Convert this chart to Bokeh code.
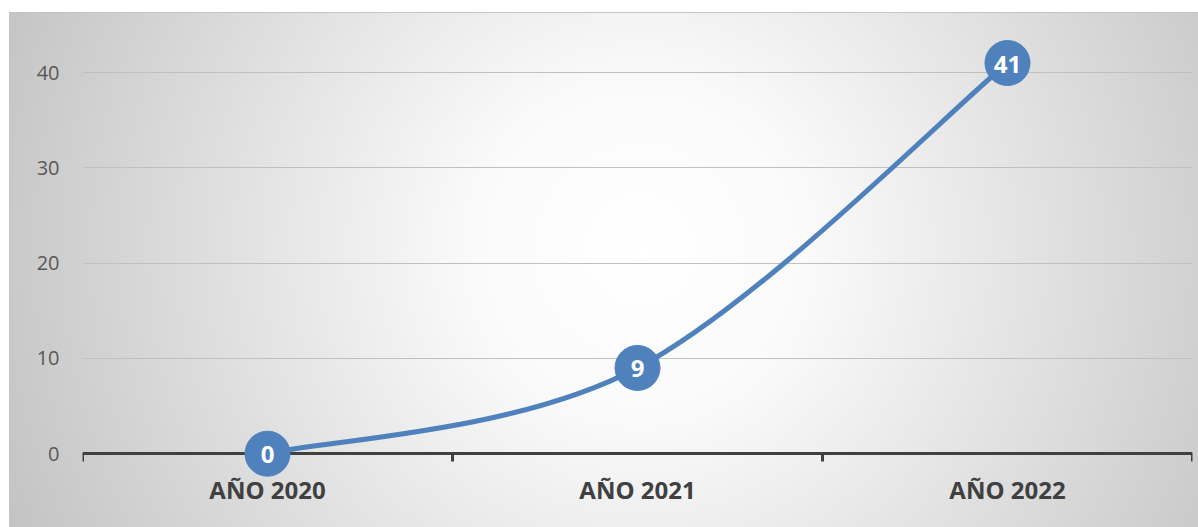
import numpy as np
from bokeh.plotting import figure
from bokeh.models import ColumnDataSource, FixedTicker, LinearAxis, Range1d
from bokeh.core.properties import value
from bokeh.embed import file_html
from bokeh.resources import INLINE

categories = ["AÑO 2020", "AÑO 2021", "AÑO 2022"]
values = [0, 9, 41]
y_ticks = [0, 10, 20, 30, 40]

n = len(categories)
xs = [i + 0.5 for i in range(n)]

# smoothed line (Catmull-Rom -> cubic Bezier control points from the data)
px = [xs[0]] + xs + [xs[-1]]
py = [values[0]] + values + [values[-1]]
seg = dict(x0=[], y0=[], x1=[], y1=[], cx0=[], cy0=[], cx1=[], cy1=[])
for i in range(n - 1):
    seg["x0"].append(xs[i]); seg["y0"].append(values[i])
    seg["x1"].append(xs[i + 1]); seg["y1"].append(values[i + 1])
    seg["cx0"].append(xs[i] + (px[i + 2] - px[i]) / 6)
    seg["cy0"].append(values[i] + (py[i + 2] - py[i]) / 6)
    seg["cx1"].append(xs[i + 1] - (px[i + 3] - px[i + 1]) / 6)
    seg["cy1"].append(values[i + 1] - (py[i + 3] - py[i + 1]) / 6)

bg = ("linear-gradient(#ffffff,#ffffff) 0 0/100% 12px no-repeat, "
      "linear-gradient(#ffffff,#ffffff) 0 0/9px 100% no-repeat, "
      "linear-gradient(#c4c4c4,#c4c4c4) 9px 12px/100% 1px no-repeat, "
      "linear-gradient(#c4c4c4,#c4c4c4) 9px 12px/1px 100% no-repeat, "
      "radial-gradient(circle 700px at 640px 250px, #ffffff 0%, #fafafa 24%, #c2c2c2 100%)")

p = figure(width=1198, height=527, output_backend="svg", toolbar_location=None,
           x_range=Range1d(0, n), y_range=Range1d(-2.5, 46.3),
           min_border_left=82, min_border_right=6, min_border_top=12, min_border_bottom=50,
           border_fill_color=None, background_fill_color=None, outline_line_color=None,
           styles={"background": bg})

# grid
p.xgrid.visible = False
p.ygrid.ticker = FixedTicker(ticks=y_ticks)
p.ygrid.grid_line_color = "#c0c0c0"
p.ygrid.grid_line_width = 1

# y axis
p.yaxis.ticker = FixedTicker(ticks=y_ticks)
p.yaxis.axis_line_color = None
p.yaxis.major_tick_line_color = None
p.yaxis.minor_tick_line_color = None
p.yaxis.major_label_standoff = 17
p.yaxis.major_label_text_font = "Open Sans"
p.yaxis.major_label_text_font_size = "20px"
p.yaxis.major_label_text_color = "#595959"

# category labels axis
p.xaxis.ticker = FixedTicker(ticks=xs)
p.xaxis.major_label_overrides = {x: c for x, c in zip(xs, categories)}
p.xaxis.axis_line_color = None
p.xaxis.major_tick_line_color = None
p.xaxis.minor_tick_line_color = None
p.xaxis.major_tick_out = 0
p.xaxis.major_tick_in = 0
p.xaxis.major_label_standoff = -5
p.xaxis.major_label_text_font = "Open Sans"
p.xaxis.major_label_text_font_style = "bold"
p.xaxis.major_label_text_font_size = "24px"
p.xaxis.major_label_text_color = "#404040"

# axis line at zero with boundary ticks
bounds = list(range(n + 1))
tick_axis = LinearAxis(fixed_location=0, ticker=FixedTicker(ticks=bounds),
                       major_label_overrides={b: "" for b in bounds},
                       major_tick_in=0, major_tick_out=8,
                       major_tick_line_width=3, major_tick_line_color="#404040",
                       minor_tick_line_color=None, axis_line_width=3, axis_line_color="#404040")
p.add_layout(tick_axis, "below")

src = ColumnDataSource(data=dict(x=xs, y=values, label=[str(v) for v in values]))
bez = p.bezier(x0="x0", y0="y0", x1="x1", y1="y1", cx0="cx0", cy0="cy0", cx1="cx1", cy1="cy1",
               source=ColumnDataSource(seg), line_color="#4f81bd", line_width=5)
bez.level = "overlay"
mk = p.scatter(x="x", y="y", source=src, size=45, fill_color="#4f81bd", line_color="#4f81bd")
mk.level = "overlay"
tx = p.text(x="x", y="y", text="label", source=src, text_align="center", text_baseline="middle",
            text_font=value("Open Sans"), text_font_style="bold", text_font_size="24px",
            text_color="white", y_offset=1)
tx.level = "overlay"

open("out.html", "w").write(file_html(p, INLINE))
